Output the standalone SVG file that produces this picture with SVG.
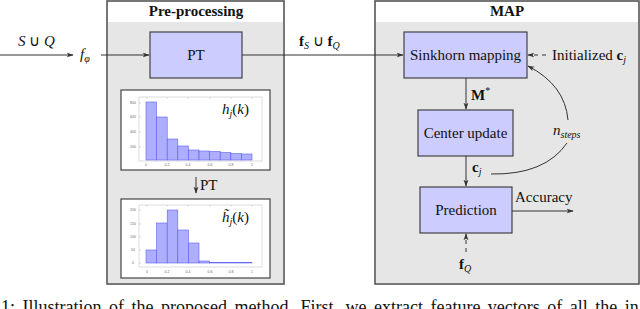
<svg xmlns="http://www.w3.org/2000/svg" width="640" height="309" viewBox="0 0 640 309" font-family="'Liberation Serif','Times New Roman',serif">
<defs>
<style>
text{font-family:"Liberation Serif","Times New Roman",serif;fill:#111}
.t{font-size:15px}
.b{font-weight:bold}
.i{font-style:italic}
.outer{fill:#fff;stroke:#555;stroke-width:1.6}
.inner{fill:#e6e6e6}
.node{fill:#ccccff;stroke:#333;stroke-width:1.1}
.ln{fill:none;stroke:#333;stroke-width:1}
.dash{fill:none;stroke:#333;stroke-width:1;stroke-dasharray:4 4}
.frame{fill:#fff;stroke:#333;stroke-width:1.1}
.ax{fill:none;stroke:#bbb;stroke-width:0.5}
.bar{fill:#a0a0ff;fill-opacity:0.85;stroke:#6060f0;stroke-width:0.6}
.tk{font-family:"Liberation Sans",Arial,sans-serif;font-size:3.5px;fill:#666}
</style>
<marker id="ah" viewBox="0 0 10 10" refX="9" refY="5" markerWidth="7" markerHeight="7" orient="auto" markerUnits="userSpaceOnUse">
<path d="M0,1.5 L10,5 L0,8.5 L2.5,5 Z" fill="#333"/>
</marker>
</defs>

<g id="preprocessing">
<rect class="outer" x="107" y="1" width="177" height="283"/>
<rect class="inner" x="108" y="22" width="175" height="261"/>
<text class="t b" x="196" y="16" text-anchor="middle">Pre-processing</text>
</g>

<g id="map">
<rect class="outer" x="375" y="1" width="264" height="283"/>
<rect class="inner" x="376" y="22" width="262" height="261"/>
<text class="t b" x="507" y="16" text-anchor="middle">MAP</text>
</g>

<g id="pt">
<rect class="node" x="150" y="32" width="92" height="46"/>
<text class="t" x="196" y="60" text-anchor="middle">PT</text>
</g>

<g id="hist1">
<rect class="frame" x="121" y="90" width="149" height="80"/>
<rect class="ax" x="139" y="97" width="123" height="64"/>
<g class="ax">
<path d="M147,97v2M167,97v2M188,97v2M210,97v2M231,97v2M252,97v2M139,103h2M139,117h2M139,132h2M139,147h2"/>
</g>
<rect class="bar" x="146" y="102" width="10.6" height="58"/>
<rect class="bar" x="156.6" y="117" width="10.6" height="43"/>
<rect class="bar" x="167.2" y="139" width="10.6" height="21"/>
<rect class="bar" x="177.8" y="146" width="10.6" height="14"/>
<rect class="bar" x="188.4" y="150" width="10.6" height="10"/>
<rect class="bar" x="199" y="151" width="10.6" height="9"/>
<rect class="bar" x="209.6" y="151.5" width="10.6" height="8.5"/>
<rect class="bar" x="220.2" y="152.5" width="10.6" height="7.5"/>
<rect class="bar" x="230.8" y="153.5" width="10.6" height="6.5"/>
<rect class="bar" x="241.4" y="154" width="10.6" height="6"/>
<text class="tk" x="133" y="104" text-anchor="middle">800</text>
<text class="tk" x="133" y="118" text-anchor="middle">600</text>
<text class="tk" x="133" y="133" text-anchor="middle">400</text>
<text class="tk" x="133" y="148" text-anchor="middle">200</text>
<text class="tk" x="146" y="166" text-anchor="middle">0</text>
<text class="tk" x="167" y="166" text-anchor="middle">0.2</text>
<text class="tk" x="188" y="166" text-anchor="middle">0.4</text>
<text class="tk" x="210" y="166" text-anchor="middle">0.6</text>
<text class="tk" x="231" y="166" text-anchor="middle">0.8</text>
<text class="tk" x="252" y="166" text-anchor="middle">1</text>
<text class="t i" x="222" y="114">h<tspan font-size="10" dy="3">j</tspan><tspan dy="-3" font-style="normal">(</tspan>k<tspan font-style="normal">)</tspan></text>
</g>

<g id="hist2">
<rect class="frame" x="121" y="199" width="149" height="79"/>
<rect class="ax" x="139" y="205" width="123" height="62"/>
<g class="ax">
<path d="M147,205v2M167,205v2M188,205v2M210,205v2M231,205v2M252,205v2M139,210h2M139,224h2M139,237h2M139,250h2M139,263h2"/>
</g>
<rect class="bar" x="146" y="250" width="10.6" height="13"/>
<rect class="bar" x="156.6" y="223" width="10.6" height="40"/>
<rect class="bar" x="167.2" y="210" width="10.6" height="53"/>
<rect class="bar" x="177.8" y="230" width="10.6" height="33"/>
<rect class="bar" x="188.4" y="243" width="10.6" height="20"/>
<rect class="bar" x="199" y="261" width="10.6" height="2"/>
<rect class="bar" x="209.6" y="262.5" width="42.4" height="0.5"/>
<text class="tk" x="133" y="211" text-anchor="middle">200</text>
<text class="tk" x="133" y="225" text-anchor="middle">150</text>
<text class="tk" x="133" y="238" text-anchor="middle">100</text>
<text class="tk" x="133" y="251" text-anchor="middle">50</text>
<text class="tk" x="133" y="264" text-anchor="middle">0</text>
<text class="tk" x="147" y="273" text-anchor="middle">0</text>
<text class="tk" x="167" y="273" text-anchor="middle">0.2</text>
<text class="tk" x="188" y="273" text-anchor="middle">0.4</text>
<text class="tk" x="210" y="273" text-anchor="middle">0.6</text>
<text class="tk" x="231" y="273" text-anchor="middle">0.8</text>
<text class="tk" x="252" y="273" text-anchor="middle">1</text>
<text class="t i" x="222" y="222">h̃<tspan font-size="10" dy="3">j</tspan><tspan dy="-3" font-style="normal">(</tspan>k<tspan font-style="normal">)</tspan></text>
</g>

<g id="sinkhorn">
<rect class="node" x="404" y="32" width="123" height="46"/>
<text class="t" x="465.5" y="60" text-anchor="middle">Sinkhorn mapping</text>
</g>

<g id="center-update">
<rect class="node" x="418" y="110" width="95" height="46"/>
<text class="t" x="465.5" y="138" text-anchor="middle">Center update</text>
</g>

<g id="prediction">
<rect class="node" x="420" y="187" width="92" height="46"/>
<text class="t" x="466" y="215" text-anchor="middle">Prediction</text>
</g>

<g id="connectors">
<path class="ln" d="M0,55 H73" marker-end="url(#ah)"/>
<path class="ln" d="M101,55 H149" marker-end="url(#ah)"/>
<path class="ln" d="M242,55 H403" marker-end="url(#ah)"/>
<path class="ln" d="M196,177 V193" marker-end="url(#ah)"/>
<path class="dash" d="M546,55 H528" marker-end="url(#ah)"/>
<path class="ln" d="M466,78 V109" marker-end="url(#ah)"/>
<path class="ln" d="M466,156 V186" marker-end="url(#ah)"/>
<path class="ln" d="M512,211 H573" marker-end="url(#ah)"/>
<path class="dash" d="M466,252 V234" marker-end="url(#ah)"/>
<path class="ln" d="M491,174 Q545,175 567,143"/>
<path class="ln" d="M568,120 Q565,85 528,66" marker-end="url(#ah)"/>
</g>

<g id="labels">
<text class="t" x="18" y="46"><tspan font-style="italic">S</tspan> ∪ <tspan font-style="italic">Q</tspan></text>
<text class="t i" x="80" y="59">f<tspan font-size="10" dy="3">φ</tspan></text>
<text class="t" x="299" y="46"><tspan font-weight="bold">f</tspan><tspan font-size="10" font-style="italic" dy="3">S</tspan><tspan dy="-3"> ∪ </tspan><tspan font-weight="bold">f</tspan><tspan font-size="10" font-style="italic" dy="3">Q</tspan></text>
<text class="t" x="552" y="60">Initialized <tspan font-weight="bold">c</tspan><tspan font-size="10" font-style="italic" dy="3">j</tspan></text>
<text class="t b" x="471" y="100">M<tspan font-size="10" font-weight="normal" dy="-6">*</tspan></text>
<text class="t b" x="472" y="172">c<tspan font-size="10" font-weight="normal" font-style="italic" dy="3">j</tspan></text>
<text class="t i" x="553" y="135">n<tspan font-size="10" dy="3">steps</tspan></text>
<text class="t" x="515" y="202">Accuracy</text>
<text class="t b" x="459" y="269">f<tspan font-size="10" font-weight="normal" font-style="italic" dy="3">Q</tspan></text>
<text class="t" x="200" y="190">PT</text>
</g>

<text x="1" y="313" font-size="18" word-spacing="3">1: Illustration of the proposed method. First, we extract feature vectors of all the in</text>
</svg>
